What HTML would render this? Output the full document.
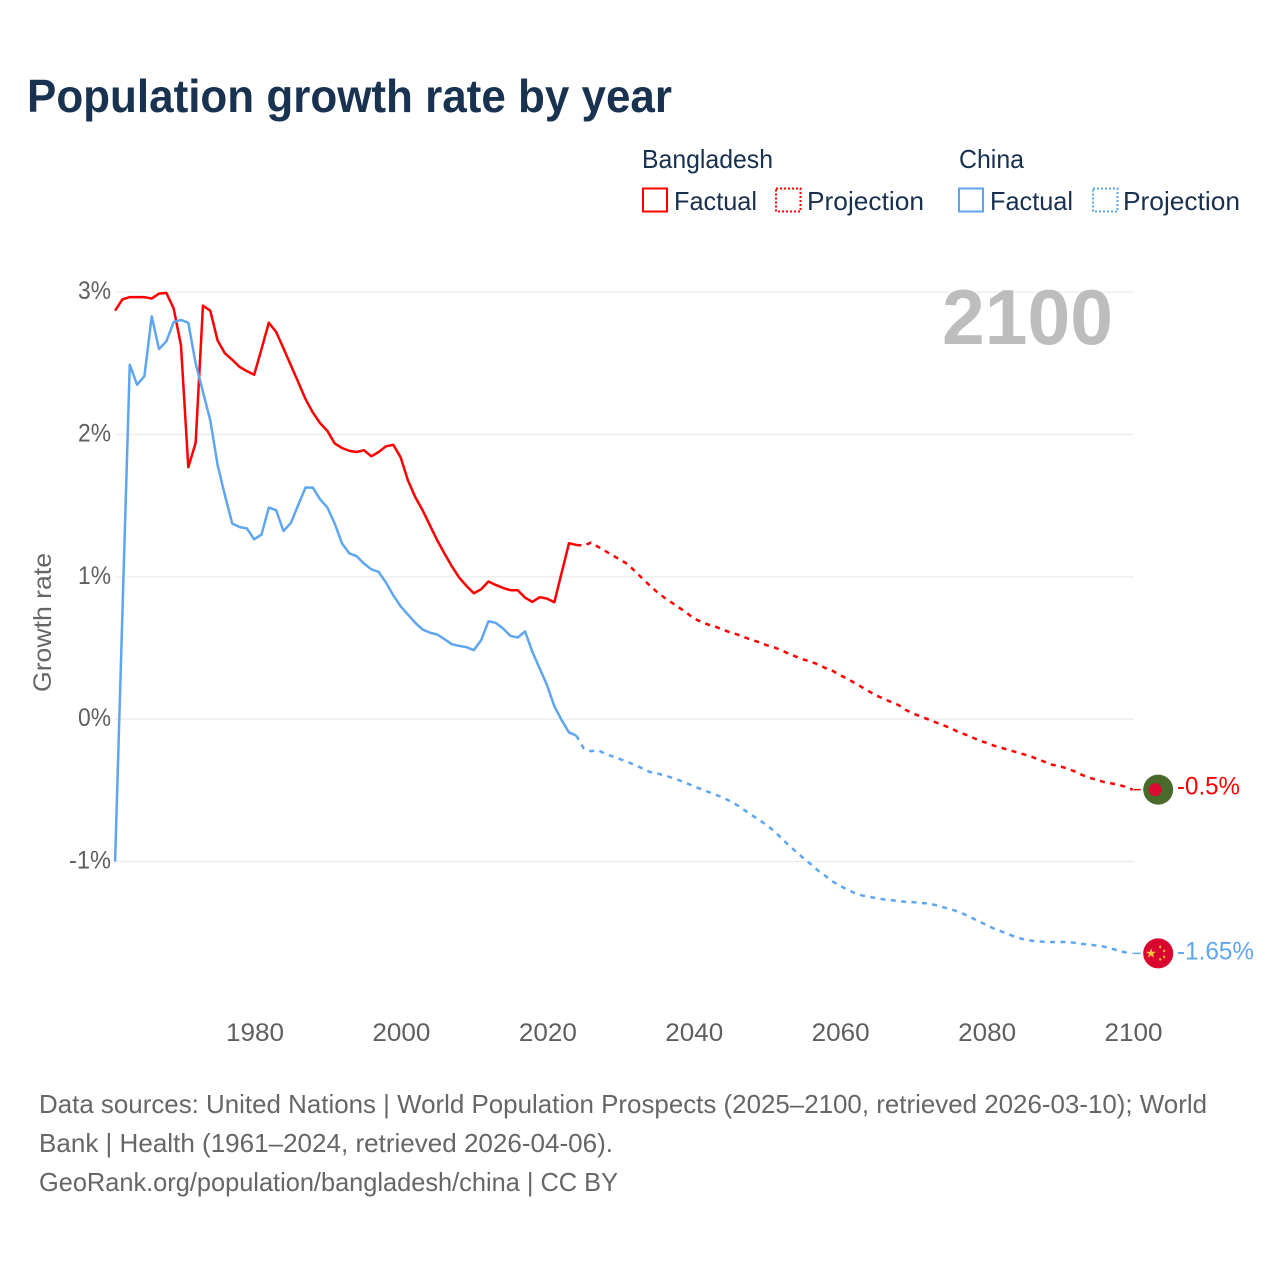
<!DOCTYPE html>
<html lang="en">
<head>
<meta charset="utf-8">
<title>Population growth rate by year</title>
<style>
  html, body { margin: 0; padding: 0; background: #ffffff; }
  svg { display: block; font-family: "Liberation Sans", sans-serif; }
</style>
</head>
<body>
<svg id="chart" xmlns="http://www.w3.org/2000/svg" width="1280" height="1280" viewBox="0 0 1280 1280">
  <rect x="0" y="0" width="1280" height="1280" fill="#ffffff"/>
  <text x="27" y="112" font-size="46" font-weight="700" fill="#18324f" textLength="645" lengthAdjust="spacingAndGlyphs">Population growth rate by year</text>

  <g font-size="26" fill="#18304f">
    <text x="642" y="168" textLength="131" lengthAdjust="spacingAndGlyphs">Bangladesh</text>
    <text x="959" y="168" textLength="65" lengthAdjust="spacingAndGlyphs">China</text>
    <rect x="643" y="188.5" width="24" height="23" fill="none" stroke="#ff0000" stroke-width="2"/>
    <text x="674" y="210" textLength="83" lengthAdjust="spacingAndGlyphs">Factual</text>
    <rect x="776" y="188.5" width="24.5" height="23" fill="none" stroke="#ff0000" stroke-width="2" stroke-dasharray="2 2"/>
    <text x="807" y="210" textLength="117" lengthAdjust="spacingAndGlyphs">Projection</text>
    <rect x="959" y="188.5" width="24" height="23" fill="none" stroke="#5ea6ef" stroke-width="2"/>
    <text x="990" y="210" textLength="83" lengthAdjust="spacingAndGlyphs">Factual</text>
    <rect x="1093" y="188.5" width="24.5" height="23" fill="none" stroke="#5ea6ef" stroke-width="2" stroke-dasharray="2 2"/>
    <text x="1123" y="210" textLength="117" lengthAdjust="spacingAndGlyphs">Projection</text>
  </g>

  <text transform="translate(51,692) rotate(-90)" font-size="25" fill="#666666" textLength="139" lengthAdjust="spacingAndGlyphs">Growth rate</text>
  <g id="grid"></g>
  <g id="yticks"></g>
  <g id="xticks"></g>

  <text x="942" y="344" font-size="78" font-weight="700" fill="#bdbdbd" textLength="171" lengthAdjust="spacingAndGlyphs">2100</text>

  <g id="series"></g>
  <g id="endpoints"></g>

  <g font-size="26" fill="#666666">
    <text x="39" y="1113" textLength="1168" lengthAdjust="spacingAndGlyphs">Data sources: United Nations | World Population Prospects (2025–2100, retrieved 2026-03-10); World</text>
    <text x="39" y="1152" textLength="574" lengthAdjust="spacingAndGlyphs">Bank | Health (1961–2024, retrieved 2026-04-06).</text>
    <text x="39" y="1191" textLength="579" lengthAdjust="spacingAndGlyphs">GeoRank.org/population/bangladesh/china | CC BY</text>
  </g>
</svg>

<script>
const yTickValues = [3, 2, 1, 0, -1];
const yTickLabels = ["3%", "2%", "1%", "0%", "-1%"];
const xTickValues = [1980, 2000, 2020, 2040, 2060, 2080, 2100];
const xTickLabels = ["1980", "2000", "2020", "2040", "2060", "2080", "2100"];

const factualStartYear = 1961;
const projectionStartYear = 2024;

const bangladeshFactual = [
  2.87, 2.95, 2.965, 2.965, 2.965, 2.955, 2.99, 2.995, 2.885, 2.625,
  1.77, 1.94, 2.905, 2.87, 2.66, 2.57, 2.525, 2.475, 2.445, 2.42,
  2.6, 2.785, 2.72, 2.605, 2.487, 2.37, 2.25, 2.155, 2.08, 2.025,
  1.937, 1.905, 1.885, 1.877, 1.89, 1.847, 1.877, 1.917, 1.927, 1.84,
  1.678, 1.56, 1.468, 1.362, 1.257, 1.163, 1.074, 0.995, 0.936, 0.885,
  0.913, 0.967, 0.943, 0.922, 0.906, 0.906, 0.854, 0.824, 0.857, 0.847,
  0.822, 1.03, 1.236, 1.224
];
const bangladeshProjection = [
  1.224, 1.22, 1.24, 1.21, 1.18, 1.15, 1.12, 1.09, 1.04, 0.99, 0.94,
  0.895, 0.855, 0.82, 0.785, 0.75, 0.71, 0.685, 0.665, 0.65, 0.63,
  0.61, 0.595, 0.575, 0.557, 0.54, 0.52, 0.505, 0.485, 0.46, 0.44,
  0.42, 0.405, 0.385, 0.36, 0.34, 0.31, 0.285, 0.255, 0.225, 0.195,
  0.165, 0.145, 0.12, 0.1, 0.065, 0.04, 0.02, 0, -0.02, -0.04,
  -0.06, -0.085, -0.105, -0.125, -0.15, -0.165, -0.185, -0.2, -0.215, -0.23,
  -0.245, -0.26, -0.28, -0.3, -0.32, -0.33, -0.345, -0.365, -0.39, -0.41,
  -0.425, -0.44, -0.45, -0.46, -0.475, -0.495
];
const chinaFactual = [
  -1.0, 0.75, 2.49, 2.35, 2.41, 2.83, 2.6, 2.655, 2.79, 2.805,
  2.785, 2.5, 2.3, 2.1, 1.785, 1.573, 1.374, 1.35, 1.34, 1.264,
  1.297, 1.487, 1.468, 1.322, 1.378, 1.503, 1.627, 1.627, 1.545, 1.487,
  1.374, 1.234, 1.165, 1.145, 1.093, 1.053, 1.035, 0.96, 0.87, 0.793,
  0.735, 0.677, 0.63, 0.608, 0.595, 0.562, 0.527, 0.515, 0.506, 0.485,
  0.555, 0.688, 0.677, 0.637, 0.585, 0.574, 0.616, 0.473, 0.356, 0.239,
  0.091, -0.007, -0.093, -0.115
];
const chinaProjection = [
  -0.115, -0.204, -0.225, -0.218, -0.245, -0.262, -0.281, -0.3, -0.322, -0.345,
  -0.37, -0.38, -0.395, -0.41, -0.428, -0.448, -0.47, -0.49, -0.51, -0.53,
  -0.55, -0.575, -0.605, -0.64, -0.675, -0.708, -0.745, -0.785, -0.835, -0.885,
  -0.93, -0.975, -1.017, -1.062, -1.1, -1.14, -1.17, -1.197, -1.22, -1.238,
  -1.248, -1.257, -1.266, -1.271, -1.278, -1.283, -1.285, -1.29, -1.294, -1.305,
  -1.32, -1.332, -1.35, -1.37, -1.395, -1.42, -1.445, -1.47, -1.49, -1.51,
  -1.53, -1.545, -1.555, -1.56, -1.564, -1.565, -1.565, -1.565, -1.57, -1.578,
  -1.583, -1.59, -1.597, -1.61, -1.625, -1.638, -1.645
];

const endLabelBangladesh = "-0.5%";
const endLabelChina = "-1.65%";

const NS = "http://www.w3.org/2000/svg";
function xScale(year) { return 255 + (year - 1980) * 7.3208; }
function yScale(value) { return 719.2 - value * 142.35; }
function lineX(year) { return xScale(year) - 0.8; }

function makeEl(tag, attrs, parent) {
  const el = document.createElementNS(NS, tag);
  for (const k in attrs) { el.setAttribute(k, attrs[k]); }
  parent.appendChild(el);
  return el;
}

const gridLayer = document.getElementById("grid");
const yTickLayer = document.getElementById("yticks");
const xTickLayer = document.getElementById("xticks");
const seriesLayer = document.getElementById("series");
const endLayer = document.getElementById("endpoints");

yTickValues.forEach(function (v, i) {
  const line = makeEl("line", { x1: 115, x2: xScale(2100), y1: yScale(v), y2: yScale(v), stroke: "#ebebeb", "stroke-width": 1.3 }, gridLayer);
  
  
  const label = makeEl("text", { x: 111, y: yScale(v) + 7, "text-anchor": "end", "font-size": 25, fill: "#5f5f5f", textLength: yTickLabels[i].length > 2 ? 42 : 33, lengthAdjust: "spacingAndGlyphs" }, yTickLayer);
  
  
  label.textContent = yTickLabels[i];
});

xTickValues.forEach(function (v, i) {
  const label = makeEl("text", { x: xScale(v), y: 1041, "text-anchor": "middle", "font-size": 25, fill: "#5f5f5f", textLength: 58, lengthAdjust: "spacingAndGlyphs" }, xTickLayer);
  
  
  label.textContent = xTickLabels[i];
});

function linePath(values, startYear) {
  return values.map(function (v, i) {
    return (i === 0 ? "M" : "L") + lineX(startYear + i).toFixed(2) + " " + yScale(v).toFixed(2);
  }).join(" ");
}

const redSolid = makeEl("path", { d: linePath(bangladeshFactual, factualStartYear), fill: "none", stroke: "#ff0000", "stroke-width": 2.5, "stroke-linejoin": "round" }, seriesLayer);



const redDash = makeEl("path", { d: linePath(bangladeshProjection, projectionStartYear), fill: "none", stroke: "#ff0000", "stroke-width": 2.5, "stroke-dasharray": "5 5.4" }, seriesLayer);



const blueSolid = makeEl("path", { d: linePath(chinaFactual, factualStartYear), fill: "none", stroke: "#5ea6ef", "stroke-width": 2.5, "stroke-linejoin": "round" }, seriesLayer);



const blueDash = makeEl("path", { d: linePath(chinaProjection, projectionStartYear), fill: "none", stroke: "#5ea6ef", "stroke-width": 2.5, "stroke-dasharray": "5 5.4" }, seriesLayer);



function starPoints(cx, cy, r, rotDeg) {
  const pts = [];
  for (let i = 0; i < 10; i++) {
    const rad = i % 2 === 0 ? r : r * 0.382;
    const a = (rotDeg - 90 + i * 36) * Math.PI / 180;
    pts.push((cx + rad * Math.cos(a)).toFixed(2) + "," + (cy + rad * Math.sin(a)).toFixed(2));
  }
  return pts.join(" ");
}

const endBx = xScale(2100);
const endBy = yScale(bangladeshProjection[bangladeshProjection.length - 1]);
const endCy = yScale(chinaProjection[chinaProjection.length - 1]);
const flagX = 1158.2;

const leaderB = makeEl("line", { x1: endBx, x2: flagX - 17.5, y1: endBy, y2: endBy, stroke: "#ff0000", "stroke-width": 1.5 }, endLayer);


const leaderC = makeEl("line", { x1: endBx, x2: flagX - 17.5, y1: endCy, y2: endCy, stroke: "#5ea6ef", "stroke-width": 1.5 }, endLayer);



const flagB = makeEl("circle", { cx: flagX, cy: endBy, r: 15, fill: "#4a6a2c" }, endLayer);


const flagBDisc = makeEl("circle", { cx: flagX - 3, cy: endBy, r: 6.5, fill: "#dc0a32" }, endLayer);



const flagC = makeEl("circle", { cx: flagX, cy: endCy, r: 15, fill: "#d9042f" }, endLayer);


const bigStar = makeEl("polygon", { points: starPoints(flagX - 7.2, endCy, 5.4, 0), fill: "#fcc63d" }, endLayer);


[[2, -6.5], [6, -2.5], [6, 3.5], [2, 6]].forEach(function (o) {
  const star = makeEl("polygon", { points: starPoints(flagX + o[0], endCy + o[1], 2, 20), fill: "#fcc63d" }, endLayer);
  
  
});

const labelB = makeEl("text", { x: 1177, y: endBy + 5, "font-size": 25, fill: "#ff0000", textLength: 63, lengthAdjust: "spacingAndGlyphs" }, endLayer);


labelB.textContent = endLabelBangladesh;

const labelC = makeEl("text", { x: 1177, y: endCy + 6, "font-size": 25, fill: "#5ea6ef", textLength: 77, lengthAdjust: "spacingAndGlyphs" }, endLayer);


labelC.textContent = endLabelChina;
</script>
</body>
</html>
